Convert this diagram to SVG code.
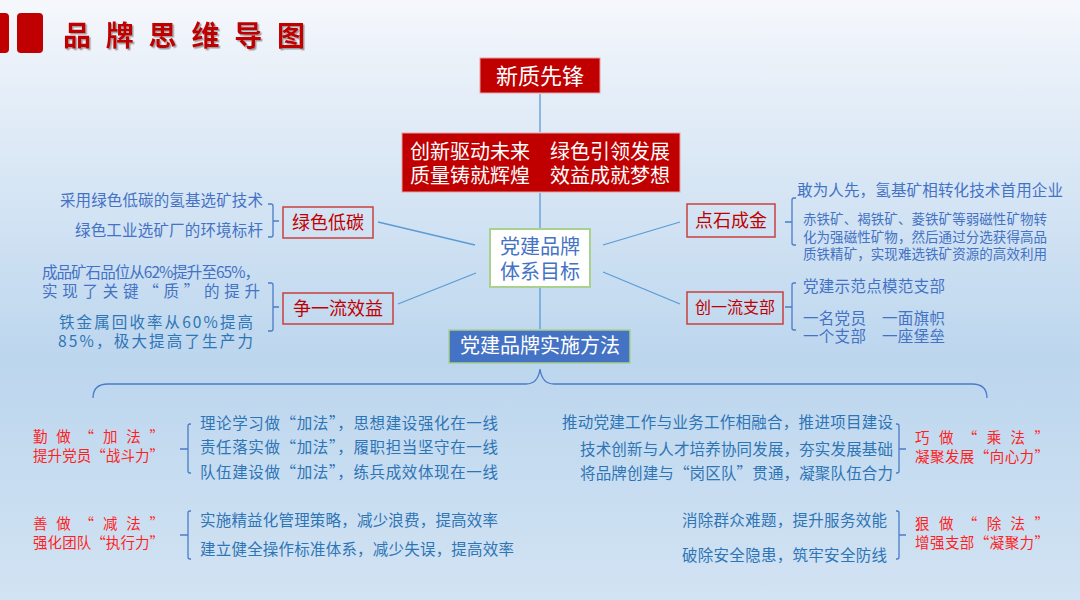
<svg xmlns="http://www.w3.org/2000/svg" width="1080" height="600" viewBox="0 0 1080 600">
<defs>
<linearGradient id="bg" x1="0" y1="0" x2="0" y2="1">
<stop offset="0" stop-color="#f6f8fc"/>
<stop offset="0.1" stop-color="#eaf1f9"/>
<stop offset="0.6" stop-color="#bcd6ee"/>
<stop offset="1" stop-color="#d2e3f3"/>
</linearGradient>
<filter id="sh" x="-5%" y="-20%" width="110%" height="150%">
<feDropShadow dx="1.5" dy="1.5" stdDeviation="0.6" flood-color="#7a7a7a" flood-opacity="0.7"/>
</filter>
<style>
text{font-family:"Noto Sans CJK SC","Noto Sans",sans-serif;}
.red-fill{fill:#c00000;stroke:#e8a0a0;stroke-width:1;}
.wt{fill:#ffffff;text-anchor:middle;}
.outline{fill:#ffffff;fill-opacity:0;stroke:#c9403e;stroke-width:1.5;}
.nt{fill:#c00000;text-anchor:middle;}
.link{stroke:#5b9bd5;stroke-width:1.3;fill:none;}
.brace{stroke:#4a7cc9;stroke-width:1.3;fill:none;}
.tb{fill:#4472c4;font-size:15.5px;}
.tb2{fill:#2e75b6;font-size:15.5px;}
.ts{fill:#4472c4;font-size:13.5px;}
.tr{fill:#ff1f1f;font-size:14.5px;}
.end{text-anchor:end;}
</style>
</defs>
<rect x="0" y="0" width="1080" height="600" fill="url(#bg)"/>

<g id="title">
<rect x="-6" y="13" width="15" height="40" rx="4" fill="#c00000"/>
<rect x="17" y="13" width="26" height="40" rx="4" fill="#c00000"/>
<text x="63" y="46" font-size="28" font-weight="bold" fill="#c00000" textLength="242" lengthAdjust="spacing" filter="url(#sh)">品牌思维导图</text>
</g>

<g id="connectors">
<line class="link" x1="540" y1="94" x2="540" y2="132"/>
<line class="link" x1="540" y1="193" x2="540" y2="228"/>
<line class="link" x1="540" y1="288" x2="540" y2="329"/>
<line class="link" x1="378" y1="222" x2="475" y2="245"/>
<line class="link" x1="398" y1="304" x2="476" y2="273"/>
<line class="link" x1="603" y1="245" x2="680" y2="222"/>
<line class="link" x1="603" y1="272" x2="680" y2="304"/>
<path class="brace" d="M93,398 Q93,384 108,384 L526,384 Q538,384 540,369 Q542,384 554,384 L972,384 Q987,384 987,398"/>
<path class="brace" d="M268,204 H271 Q273,204 273,206 V235 Q273,237 271,237 H268 M273,221 H279"/>
<path class="brace" d="M268,283 H271 Q273,283 273,285 V329 Q273,331 271,331 H268 M273,307 H279"/>
<path class="brace" d="M796,198 H794 Q792,198 792,200 V243 Q792,245 794,245 H796 M792,222 H785"/>
<path class="brace" d="M796,283 H794 Q792,283 792,285 V328 Q792,330 794,330 H796 M792,307 H785"/>
<path class="brace" d="M191,424 H190 Q188,424 188,426 V471 Q188,473 190,473 H191 M188,449 H180"/>
<path class="brace" d="M191,511 H190 Q188,511 188,513 V557 Q188,559 190,559 H191 M188,535 H180"/>
<path class="brace" d="M896,424 H897 Q899,424 899,426 V471 Q899,473 897,473 H896 M899,449 H906"/>
<path class="brace" d="M896,511 H897 Q899,511 899,513 V557 Q899,559 897,559 H896 M899,535 H906"/>
</g>

<g id="xinzhi">
<rect class="red-fill" x="480" y="58" width="120" height="35"/>
<text class="wt" x="540" y="84" font-size="22">新质先锋</text>
</g>

<g id="slogan">
<rect class="red-fill" x="402" y="133" width="278" height="59"/>
<text class="wt" x="540" y="159" font-size="20">创新驱动未来　绿色引领发展</text>
<text class="wt" x="540" y="183" font-size="20">质量铸就辉煌　效益成就梦想</text>
</g>

<g id="center">
<rect x="490" y="229" width="100" height="58" fill="#ffffff" stroke="#a9d18e" stroke-width="2"/>
<text x="540" y="254" font-size="20" fill="#4472c4" text-anchor="middle">党建品牌</text>
<text x="540" y="279" font-size="20" fill="#4472c4" text-anchor="middle">体系目标</text>
</g>

<g id="method">
<rect x="449" y="330" width="181" height="33" fill="#4472c4" stroke="#a9d18e" stroke-width="1.5"/>
<text class="wt" x="540" y="353" font-size="20">党建品牌实施方法</text>
</g>

<g id="lvse">
<rect class="outline" x="283" y="207" width="90" height="31"/>
<text class="nt" x="328" y="229" font-size="18">绿色低碳</text>
<text class="tb end" x="263" y="206" textLength="203" lengthAdjust="spacing">采用绿色低碳的氢基选矿技术</text>
<text class="tb end" x="263" y="236" textLength="188" lengthAdjust="spacing">绿色工业选矿厂的环境标杆</text>
</g>

<g id="xiaoyi">
<rect class="outline" x="283" y="293" width="110" height="31"/>
<text class="nt" x="338" y="315" font-size="18">争一流效益</text>
<text class="tb" x="42" y="278" textLength="218" lengthAdjust="spacing">成品矿石品位从62%提升至65%，</text>
<text class="tb" x="42" y="297" textLength="218" lengthAdjust="spacing">实现了关键“质”的提升</text>
<text class="tb2" x="59" y="328" textLength="194" lengthAdjust="spacing">铁金属回收率从60%提高</text>
<text class="tb2" x="58" y="347" textLength="195" lengthAdjust="spacing">85%，极大提高了生产力</text>
</g>

<g id="dianshi">
<rect class="outline" x="687" y="204" width="88" height="33"/>
<text class="nt" x="731" y="227" font-size="18">点石成金</text>
<text class="tb" x="797" y="196" textLength="266" lengthAdjust="spacing">敢为人先，氢基矿相转化技术首用企业</text>
<text class="ts" x="803" y="224" textLength="244" lengthAdjust="spacing">赤铁矿、褐铁矿、菱铁矿等弱磁性矿物转</text>
<text class="ts" x="803" y="242" textLength="244" lengthAdjust="spacing">化为强磁性矿物，然后通过分选获得高品</text>
<text class="ts" x="803" y="259" textLength="244" lengthAdjust="spacing">质铁精矿，实现难选铁矿资源的高效利用</text>
</g>

<g id="zhibu">
<rect class="outline" x="687" y="292" width="96" height="32"/>
<text class="nt" x="735" y="313" font-size="16">创一流支部</text>
<text class="tb" x="803" y="292" textLength="142" lengthAdjust="spacing">党建示范点模范支部</text>
<text class="tb" x="803" y="324" textLength="142" lengthAdjust="spacing">一名党员　一面旗帜</text>
<text class="tb" x="803" y="342" textLength="142" lengthAdjust="spacing">一个支部　一座堡垒</text>
</g>

<g id="jiafa">
<text class="tr" x="33" y="442" textLength="131" lengthAdjust="spacing">勤做“加法”</text>
<text class="tr" x="33" y="461" textLength="131" lengthAdjust="spacing">提升党员“战斗力”</text>
<text class="tb2" x="200" y="429" textLength="298" lengthAdjust="spacing">理论学习做“加法”，思想建设强化在一线</text>
<text class="tb2" x="200" y="453" textLength="298" lengthAdjust="spacing">责任落实做“加法”，履职担当坚守在一线</text>
<text class="tb2" x="200" y="478" textLength="298" lengthAdjust="spacing">队伍建设做“加法”，练兵成效体现在一线</text>
</g>

<g id="jianfa">
<text class="tr" x="33" y="529" textLength="131" lengthAdjust="spacing">善做“减法”</text>
<text class="tr" x="33" y="548" textLength="131" lengthAdjust="spacing">强化团队“执行力”</text>
<text class="tb2" x="200" y="526" textLength="298" lengthAdjust="spacing">实施精益化管理策略，减少浪费，提高效率</text>
<text class="tb2" x="200" y="555" textLength="314" lengthAdjust="spacing">建立健全操作标准体系，减少失误，提高效率</text>
</g>

<g id="chengfa">
<text class="tr" x="915" y="443" textLength="134" lengthAdjust="spacing">巧做“乘法”</text>
<text class="tr" x="915" y="462" textLength="134" lengthAdjust="spacing">凝聚发展“向心力”</text>
<text class="tb2 end" x="893" y="428" textLength="331" lengthAdjust="spacing">推动党建工作与业务工作相融合，推进项目建设</text>
<text class="tb2 end" x="893" y="455" textLength="313" lengthAdjust="spacing">技术创新与人才培养协同发展，夯实发展基础</text>
<text class="tb2 end" x="893" y="479" textLength="313" lengthAdjust="spacing">将品牌创建与“岗区队”贯通，凝聚队伍合力</text>
</g>

<g id="chufa">
<text class="tr" x="915" y="529" textLength="134" lengthAdjust="spacing">狠做“除法”</text>
<text class="tr" x="915" y="548" textLength="134" lengthAdjust="spacing">增强支部“凝聚力”</text>
<text class="tb2 end" x="887" y="526" textLength="205" lengthAdjust="spacing">消除群众难题，提升服务效能</text>
<text class="tb2 end" x="887" y="561" textLength="205" lengthAdjust="spacing">破除安全隐患，筑牢安全防线</text>
</g>
</svg>
